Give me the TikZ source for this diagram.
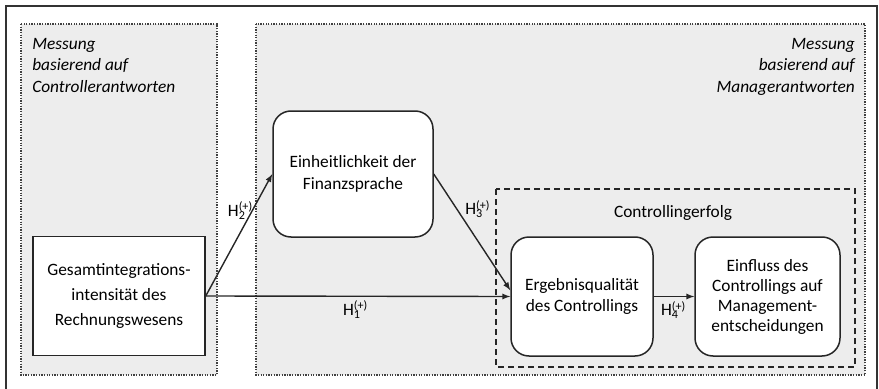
\documentclass[tikz,border=0pt]{standalone}
\usepackage{fontspec}
\setmainfont{Carlito}
\usetikzlibrary{arrows}
\newlength{\du}
\setlength{\du}{0.75pt}
\newcommand{\Hyp}[1]{H\rlap{\textsuperscript{(+)}}\textsubscript{#1}}
\tikzset{
  zone/.style={draw=black!75, fill=black!7, densely dotted, line width=1.3\du},
  kasten/.style={draw=black!85, fill=white, line width=1.5\du, align=center, inner sep=0pt,
    font=\fontsize{13}{16}\selectfont},
  rkasten/.style={kasten, rounded corners=18\du},
  pfeil/.style={draw=black!85, line width=1.4\du, -latex},
  hlabel/.style={font=\fontsize{13}{16}\selectfont, inner sep=2\du},
}

\begin{document}
\begin{tikzpicture}
\pgftransformxscale{1.000000}
\pgftransformyscale{-1.000000}
\useasboundingbox (0\du,0\du) rectangle (879\du,389\du);
% frame
\draw[black!80, line width=1.6\du] (6\du,6\du) rectangle (877\du,396\du);
% measurement zones
\draw[zone] (21\du,24\du) rectangle (217\du,375\du);
\draw[zone] (256\du,24\du) rectangle (865\du,375\du);
\node[anchor=north west, align=left, inner sep=0pt, font=\fontsize{13}{16}\selectfont\itshape]
  (controller) at (32\du,38\du) {Messung\\basierend auf\\Controllerantworten};
\node[anchor=north east, align=right, inner sep=0pt, font=\fontsize{13}{16}\selectfont\itshape]
  (manager) at (855\du,38\du) {Messung\\basierend auf\\Managerantworten};
% controlling success
\draw[black!85, dash pattern=on 6\du off 4\du, line width=1.5\du] (496\du,189\du) rectangle (855\du,367\du);
\node[hlabel] (erfolg) at (673\du,213\du) {Controllingerfolg};
% constructs
\node[kasten, minimum width=172\du, minimum height=119\du, font=\fontsize{13}{18.5}\selectfont]
  (gesamt) at (119\du,296\du) {Gesamtintegrations-\\intensität des\\Rechnungswesens};
\node[rkasten, minimum width=160\du, minimum height=126\du, font=\fontsize{13}{17}\selectfont]
  (einheit) at (353\du,174\du) {Einheitlichkeit der\\Finanzsprache};
\node[rkasten, minimum width=142\du, minimum height=119\du]
  (ergebnis) at (582\du,296.5\du) {Ergebnisqualität\\des Controllings};
\node[rkasten, minimum width=145\du, minimum height=119\du, font=\fontsize{13}{15}\selectfont]
  (einfluss) at (767.5\du,296.5\du) {Einfluss des\\Controllings auf\\Management-\\entscheidungen};
% hypotheses
\draw[pfeil] (gesamt.east) -- node[hlabel, pos=0.48, below=2\du] (h1) {\Hyp{1}} (ergebnis.west);
\draw[pfeil] (gesamt.east) -- node[hlabel, pos=0.7, left=4\du] (h2) {\Hyp{2}} (einheit.west);
\draw[pfeil] (einheit.east) -- node[hlabel, pos=0.3, right=6\du] (h3) {\Hyp{3}} (ergebnis.175);
\draw[pfeil] (ergebnis.east) -- node[hlabel, pos=0.4, below=2\du] (h4) {\Hyp{4}} (einfluss.west);
\end{tikzpicture}
\end{document}
